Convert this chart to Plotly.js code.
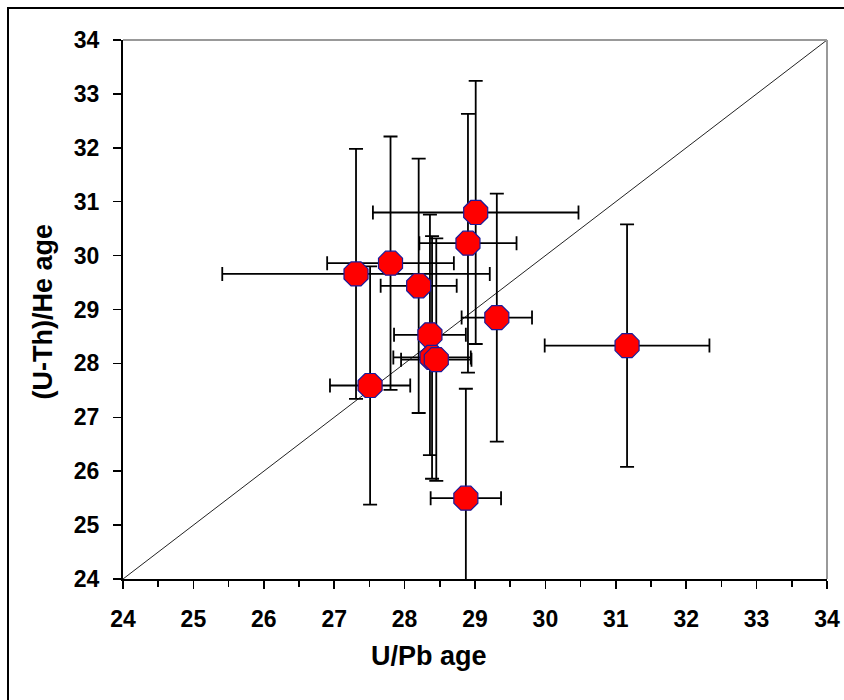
<!DOCTYPE html>
<html>
<head>
<meta charset="utf-8">
<script src="https://cdn.plot.ly/plotly-3.0.1.min.js"></script>
<style>
  html, body { margin: 0; padding: 0; background: #fff; }
  #wrap { position: relative; width: 844px; height: 700px; }
  #chart { width: 844px; height: 700px; }
  #frame { position: absolute; left: 7px; top: 7px; right: 0; bottom: 0;
           border-left: 2px solid #000; border-top: 2px solid #000; pointer-events: none; }
</style>
</head>
<body>
<div id="wrap">
  <div id="chart"></div>
  <div id="frame"></div>
</div>
<script>
// U/Pb ages (x) and (U-Th)/He ages (y) with their uncertainties
const uPbAge   = [29.01, 28.90, 27.31, 27.80, 28.20, 29.31, 31.16, 28.36, 28.39, 28.45, 28.87, 27.51];
const uPbErr   = [1.46,  0.69,  1.90,  0.90,  0.54,  0.50,  1.17,  0.51,  0.55,  0.50,  0.50,  0.57];
const uThHeAge = [30.80, 30.23, 29.66, 29.86, 29.44, 28.85, 28.33, 28.53, 28.11, 28.07, 25.50, 27.59];
const uThHeErr = [2.44,  2.40,  2.32,  2.35,  2.36,  2.30,  2.25,  2.23,  2.25,  2.25,  2.03,  2.21];
// 1:1 reference line
const oneToOneX = [24, 34];
const oneToOneY = [24, 34];
const tickVals = [24, 25, 26, 27, 28, 29, 30, 31, 32, 33, 34];
const tickText = ['24', '25', '26', '27', '28', '29', '30', '31', '32', '33', '34'];
const xTitle = 'U/Pb age';
const yTitle = '(U-Th)/He age';

const fontFamily = '"Liberation Sans", Arial, Helvetica, sans-serif';

const traces = [
  {
    x: oneToOneX, y: oneToOneY, type: 'scatter', mode: 'lines',
    line: { color: '#222', width: 1 }, hoverinfo: 'skip', showlegend: false
  },
  {
    x: uPbAge, y: uThHeAge, type: 'scatter', mode: 'markers',
    marker: { symbol: 'octagon', size: 26, color: '#ff0000', line: { color: '#1a1a99', width: 1.2 } },
    error_x: { type: 'data', array: uPbErr, visible: true, color: '#000', thickness: 1.8, width: 7 },
    error_y: { type: 'data', array: uThHeErr, visible: true, color: '#000', thickness: 1.8, width: 7 },
    showlegend: false
  }
];

const axisCommon = {
  range: [24, 34],
  tickmode: 'array', tickvals: tickVals, ticktext: tickText,
  ticks: 'outside', ticklen: 8, tickwidth: 1.5, tickcolor: '#000',
  showline: true, linecolor: '#000', linewidth: 2,
  showgrid: false, zeroline: false,
  tickfont: { family: fontFamily, size: 23, color: '#000', weight: 'bold' },
  fixedrange: true
};

const layout = {
  width: 844, height: 700,
  margin: { l: 123, r: 17, t: 40, b: 121, pad: 0 },
  paper_bgcolor: '#fff', plot_bgcolor: '#fff',
  showlegend: false,
  xaxis: Object.assign({}, axisCommon, {
    ticklabelstandoff: 10,
    minor: { dtick: 0.5, ticks: 'outside', ticklen: 6, tickwidth: 1.5, tickcolor: '#000' }
  }),
  yaxis: Object.assign({}, axisCommon, { ticklabelstandoff: 9 }),
  shapes: [
    { type: 'line', xref: 'paper', yref: 'paper', x0: 0, x1: 1, y0: 1, y1: 1, line: { color: '#999', width: 2 } },
    { type: 'line', xref: 'paper', yref: 'paper', x0: 1, x1: 1, y0: 0, y1: 1, line: { color: '#999', width: 2 } }
  ],
  annotations: [
    { text: xTitle, xref: 'paper', yref: 'paper', x: 0.4346, y: -0.143, xanchor: 'center', yanchor: 'middle',
      showarrow: false, font: { family: fontFamily, size: 27, color: '#000', weight: 'bold' } },
    { text: yTitle, xref: 'paper', yref: 'paper', x: -0.114, y: 0.496, xanchor: 'center', yanchor: 'middle',
      textangle: -90, showarrow: false, font: { family: fontFamily, size: 27, color: '#000', weight: 'bold' } }
  ]
};

Plotly.newPlot('chart', traces, layout, { displayModeBar: false, staticPlot: true });
</script>
</body>
</html>
